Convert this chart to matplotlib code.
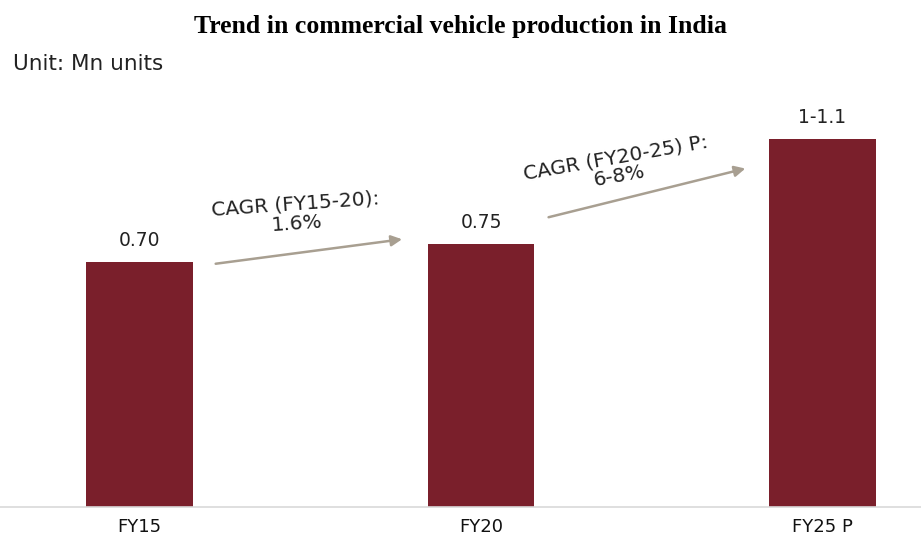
import matplotlib.pyplot as plt

# данные
categories = ["FY15", "FY20", "FY25 P"]
values = [0.70, 0.75, 1.05]
value_labels = ["0.70", "0.75", "1-1.1"]
cagr_labels = ["CAGR (FY15-20):\n1.6%", "CAGR (FY20-25) P:\n6-8%"]

bar_color = "#7a1f2b"
arrow_color = "#a89f91"
sans = "DejaVu Sans"

fig = plt.figure(figsize=(9.21, 5.38), dpi=100)
ax = fig.add_axes([0, 1 - 507 / 538, 1, (507 - 100) / 538])

x = range(len(categories))
ax.bar(x, values, width=0.313, color=bar_color)
for i, v in enumerate(values):
    ax.text(i, v + 0.035, value_labels[i], ha="center", va="bottom",
            fontsize=13.5, family=sans, color="#222222")

ax.set_xlim(-139.5 / 341.5, (921 - 139.5) / 341.5)
ax.set_ylim(0, 407 / 350)
ax.set_xticks(list(x))
ax.set_xticklabels(categories, fontsize=13, family=sans, color="#111111")
ax.tick_params(axis="x", length=0, pad=8)
ax.set_yticks([])
for s in ["top", "left", "right"]:
    ax.spines[s].set_visible(False)
ax.spines["bottom"].set_color("#d9d9d9")
ax.spines["bottom"].set_linewidth(1.2)

# стрелки CAGR
arrows = [((0.215, 0.694), (0.777, 0.766)), ((1.190, 0.826), (1.782, 0.969))]
text_pos = [(0.458, 0.837), (1.40, 0.972)]
text_rot = [4, 10]
for (start, end), pos, rot, lab in zip(arrows, text_pos, text_rot, cagr_labels):
    ax.annotate("", xy=end, xytext=start,
                arrowprops=dict(arrowstyle="-|>", color=arrow_color, lw=1.8,
                                mutation_scale=16))
    ax.text(pos[0], pos[1], lab, ha="center", va="center", rotation=rot,
            fontsize=14.5, family=sans, color="#222222",
            linespacing=1.0, rotation_mode="anchor", multialignment="center")

fig.text(0.5, 1 - 27 / 538, "Trend in commercial vehicle production in India",
         ha="center", va="center", fontsize=18.5, fontweight="bold",
         family="Liberation Serif")
fig.text(13 / 921, 1 - 64 / 538, "Unit: Mn units", ha="left", va="center",
         fontsize=15.5, family=sans, color="#222222")

fig.savefig("out.png", dpi=100)
